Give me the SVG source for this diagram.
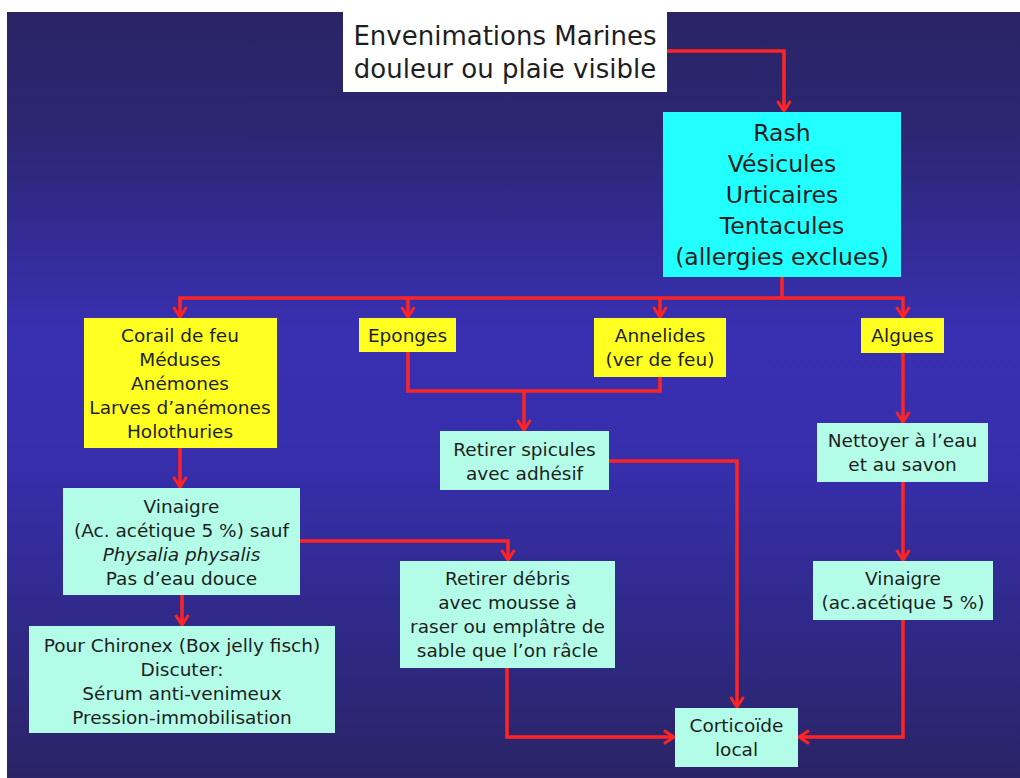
<svg xmlns="http://www.w3.org/2000/svg" width="1020" height="778" viewBox="0 0 1020 778">
<defs>
<linearGradient id="bg" x1="0" y1="0" x2="0" y2="1">
<stop offset="0" stop-color="#2a2466"/>
<stop offset="0.15" stop-color="#2c2672"/>
<stop offset="0.42" stop-color="#3830b2"/>
<stop offset="0.6" stop-color="#362eaa"/>
<stop offset="0.85" stop-color="#2e2880"/>
<stop offset="1" stop-color="#2a2466"/>
</linearGradient>
<marker id="ah" viewBox="-12 -8 14 16" refX="0" refY="0" markerWidth="14" markerHeight="16" markerUnits="userSpaceOnUse" orient="auto">
<path d="M-10,-6.5 L0,0 L-10,6.5" fill="none" stroke="#ff2424" stroke-width="3"/>
</marker>
<style>
text{font-family:"DejaVu Sans","Liberation Sans",sans-serif;fill:#1e1e1e;text-anchor:middle}
.s{font-size:18.5px}
.y{fill:#ffff22}
.c{fill:#22ffff}
.m{fill:#b3fde8}
.w{fill:#ffffff}
.con path{fill:none;stroke:#ff2424;stroke-width:3.5}
.arr{marker-end:url(#ah)}
</style>
</defs>
<rect x="0" y="0" width="1020" height="778" fill="#ffffff"/>
<rect x="7" y="12" width="1013" height="766" fill="url(#bg)"/>

<g id="connectors" class="con">
<path class="arr" d="M667,51 H784 V111"/>
<path class="arr" d="M782,277 V298 H180 V317"/>
<path class="arr" d="M782,298 H903 V317"/>
<path class="arr" d="M408,298 V317"/>
<path class="arr" d="M660,298 V317"/>
<path d="M408,352 V391 H660 V377"/>
<path class="arr" d="M524,391 V430"/>
<path class="arr" d="M609,461 H737 V707"/>
<path class="arr" d="M180,448 V487"/>
<path class="arr" d="M300,541 H508 V560"/>
<path class="arr" d="M182,595 V625"/>
<path class="arr" d="M507,668 V737 H674"/>
<path class="arr" d="M903,353 V422"/>
<path class="arr" d="M903,482 V560"/>
<path class="arr" d="M903,620 V737 H799"/>
</g>

<g id="title">
<rect class="w" x="343" y="12" width="324" height="80"/>
<text x="505" y="45" font-size="26">Envenimations Marines</text>
<text x="505" y="78" font-size="26">douleur ou plaie visible</text>
</g>

<g id="rash">
<rect class="c" x="663" y="112" width="238" height="165"/>
<text x="782" y="141" font-size="23.5">Rash</text>
<text x="782" y="172" font-size="23.5">Vésicules</text>
<text x="782" y="203" font-size="23.5">Urticaires</text>
<text x="782" y="234" font-size="23.5">Tentacules</text>
<text x="782" y="265" font-size="23.5">(allergies exclues)</text>
</g>

<g id="corail">
<rect class="y" x="84" y="318" width="193" height="130"/>
<text class="s" x="180" y="342">Corail de feu</text>
<text class="s" x="180" y="366">Méduses</text>
<text class="s" x="180" y="390">Anémones</text>
<text class="s" x="180" y="414">Larves d’anémones</text>
<text class="s" x="180" y="438">Holothuries</text>
</g>

<g id="eponges">
<rect class="y" x="359" y="318" width="97" height="34"/>
<text class="s" x="407.5" y="342">Eponges</text>
</g>

<g id="annelides">
<rect class="y" x="594" y="318" width="132" height="59"/>
<text class="s" x="660" y="342">Annelides</text>
<text class="s" x="660" y="366">(ver de feu)</text>
</g>

<g id="algues">
<rect class="y" x="861" y="318" width="83" height="35"/>
<text class="s" x="902.5" y="342">Algues</text>
</g>

<g id="spicules">
<rect class="m" x="440" y="431" width="169" height="59"/>
<text class="s" x="524.5" y="456">Retirer spicules</text>
<text class="s" x="524.5" y="480">avec adhésif</text>
</g>

<g id="nettoyer">
<rect class="m" x="817" y="423" width="171" height="59"/>
<text class="s" x="902.5" y="447">Nettoyer à l’eau</text>
<text class="s" x="902.5" y="471">et au savon</text>
</g>

<g id="vinaigre1">
<rect class="m" x="63" y="488" width="237" height="107"/>
<text class="s" x="181.5" y="513">Vinaigre</text>
<text class="s" x="181.5" y="537">(Ac. acétique 5 %) sauf</text>
<text class="s" x="181.5" y="561" font-style="italic">Physalia physalis</text>
<text class="s" x="181.5" y="585">Pas d’eau douce</text>
</g>

<g id="debris">
<rect class="m" x="400" y="561" width="215" height="107"/>
<text class="s" x="507.5" y="585">Retirer débris</text>
<text class="s" x="507.5" y="609">avec mousse à</text>
<text class="s" x="507.5" y="633">raser ou emplâtre de</text>
<text class="s" x="507.5" y="657">sable que l’on râcle</text>
</g>

<g id="vinaigre2">
<rect class="m" x="813" y="561" width="180" height="59"/>
<text class="s" x="903" y="585">Vinaigre</text>
<text class="s" x="903" y="609">(ac.acétique 5 %)</text>
</g>

<g id="chironex">
<rect class="m" x="29" y="626" width="306" height="107"/>
<text class="s" x="182" y="652">Pour Chironex (Box jelly fisch)</text>
<text class="s" x="182" y="676">Discuter:</text>
<text class="s" x="182" y="700">Sérum anti-venimeux</text>
<text class="s" x="182" y="724">Pression-immobilisation</text>
</g>

<g id="corticoide">
<rect class="m" x="675" y="708" width="123" height="59"/>
<text class="s" x="736.5" y="732">Corticoïde</text>
<text class="s" x="736.5" y="756">local</text>
</g>
</svg>
